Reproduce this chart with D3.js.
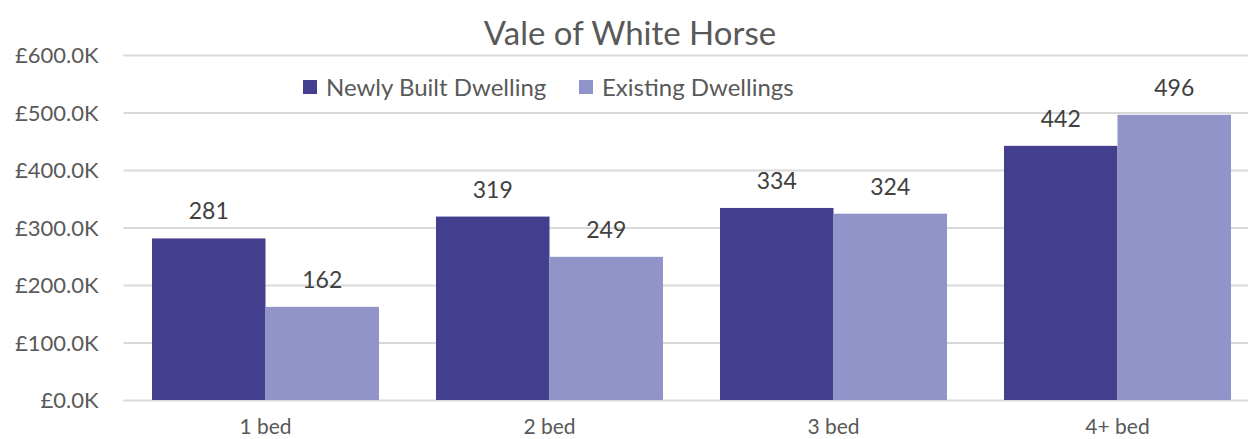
<!DOCTYPE html>
<html>
<head>
<meta charset="utf-8">
<script src="https://cdn.jsdelivr.net/npm/d3@7"></script>
<style>
  body { margin: 0; background: #fff; overflow: hidden; }
  svg text { font-family: Lato, "Open Sans", sans-serif; }
</style>
</head>
<body>
<div id="chart"></div>
<script>
// chart data
const categories = ["1 bed", "2 bed", "3 bed", "4+ bed"];
const seriesNames = ["Newly Built Dwelling", "Existing Dwellings"];
const newlyBuilt = [281, 319, 334, 442];
const existing = [162, 249, 324, 496];
const yTicks = [0, 100, 200, 300, 400, 500, 600];
const colors = ["#433e8e", "#9094c8"];

const width = 1248, height = 439;
const margin = { top: 55, left: 123.5, bottom: 39 };
const bandW = 284;
const graphWidth = bandW * categories.length;
const graphHeight = height - margin.top - margin.bottom;

const svg = d3.select("#chart")
  .append("svg")
  .attr("width", width)
  .attr("height", height);

const graph = svg.append("g")
  .attr("transform", `translate(${margin.left}, ${margin.top})`);

const y = d3.scaleLinear().domain([0, 600]).range([graphHeight, 0]);

const x = d3.scaleBand()
  .domain(categories)
  .range([0, graphWidth]);

const groupPad = 28.5;
const x1 = d3.scaleBand()
  .domain(seriesNames)
  .range([groupPad, x.bandwidth() - groupPad]);

// gridlines + y labels
const yAxis = d3.axisLeft(y)
  .tickValues(yTicks)
  .tickSize(-graphWidth)
  .tickPadding(25)
  .tickFormat(d => "£" + d.toFixed(1) + "K");

const yAxisGroup = graph.append("g").call(yAxis);
yAxisGroup.select(".domain").remove();
yAxisGroup.selectAll("line").attr("stroke", "#d9d9d9").attr("stroke-width", 2);
yAxisGroup.selectAll("text")
  .attr("fill", "#595959")
  .style("font-size", "22px")
  .attr("dy", "0.36em");

// x axis labels
const xAxisGroup = graph.append("g")
  .attr("transform", `translate(0, ${graphHeight})`)
  .call(d3.axisBottom(x).tickSize(0).tickPadding(19));
xAxisGroup.select(".domain").remove();
xAxisGroup.selectAll("text")
  .attr("fill", "#595959")
  .style("font-size", "21px");

const rows = categories.map((c, i) => ({
  cat: c,
  vals: [
    { name: seriesNames[0], value: newlyBuilt[i], color: colors[0] },
    { name: seriesNames[1], value: existing[i], color: colors[1] }
  ]
}));

const groups = graph.selectAll(".grp")
  .data(rows)
  .enter()
  .append("g")
  .attr("class", "grp")
  .attr("transform", d => `translate(${x(d.cat)}, 0)`);

groups.selectAll("rect")
  .data(d => d.vals)
  .enter()
  .append("rect")
  .attr("x", d => x1(d.name))
  .attr("y", d => y(d.value))
  .attr("width", x1.bandwidth())
  .attr("height", d => graphHeight - y(d.value))
  .attr("fill", d => d.color);

groups.selectAll(".lbl")
  .data(d => d.vals)
  .enter()
  .append("text")
  .attr("class", "lbl")
  .attr("x", d => x1(d.name) + x1.bandwidth() / 2)
  .attr("y", d => y(d.value) - 19)
  .attr("text-anchor", "middle")
  .attr("fill", "#404040")
  .style("font-size", "23px")
  .text(d => d.value);

// title
svg.append("text")
  .attr("x", 630)
  .attr("y", 45)
  .attr("text-anchor", "middle")
  .attr("fill", "#595959")
  .style("font-size", "33px")
  .text("Vale of White Horse");

// legend
const legendX = [303, 579];
const legend = svg.selectAll(".leg")
  .data(seriesNames)
  .enter()
  .append("g")
  .attr("class", "leg")
  .attr("transform", (d, i) => `translate(${legendX[i]}, 80)`);
legend.append("rect")
  .attr("width", 14)
  .attr("height", 14)
  .attr("fill", (d, i) => colors[i]);
legend.append("text")
  .attr("x", 23)
  .attr("y", 16)
  .attr("fill", "#595959")
  .style("font-size", "24px")
  .text(d => d);
</script>
</body>
</html>
